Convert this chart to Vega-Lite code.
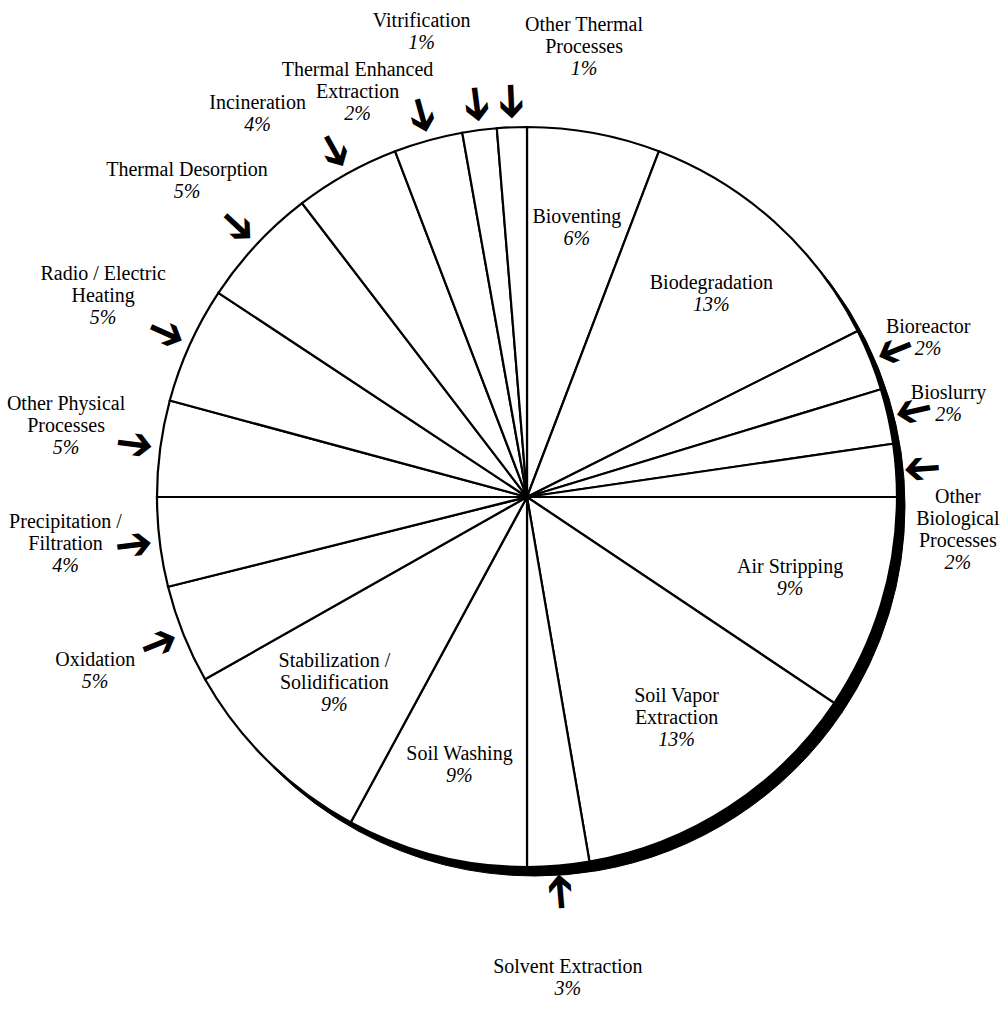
{
  "$schema": "https://vega.github.io/schema/vega-lite/v6.json",
  "autosize": "none",
  "width": 962,
  "height": 994,
  "padding": {"left": 46, "top": 0, "right": 0, "bottom": 42},
  "background": "white",
  "config": {"view": {"stroke": null}},
  "data": {"values": [
    {"n": 1, "tech": "Bioventing", "label": "Bioventing", "pct": "6%", "share": 5.8},
    {"n": 2, "tech": "Biodegradation", "label": "Biodegradation", "pct": "13%", "share": 11.8},
    {"n": 3, "tech": "Bioreactor", "label": "Bioreactor", "pct": "2%", "share": 2.7},
    {"n": 4, "tech": "Bioslurry", "label": "Bioslurry", "pct": "2%", "share": 2.4},
    {"n": 5, "tech": "Other Biological Processes", "label": "Other\nBiological\nProcesses", "pct": "2%", "share": 2.3},
    {"n": 6, "tech": "Air Stripping", "label": "Air Stripping", "pct": "9%", "share": 9.4},
    {"n": 7, "tech": "Soil Vapor Extraction", "label": "Soil Vapor\nExtraction", "pct": "13%", "share": 12.9},
    {"n": 8, "tech": "Solvent Extraction", "label": "Solvent Extraction", "pct": "3%", "share": 2.7},
    {"n": 9, "tech": "Soil Washing", "label": "Soil Washing", "pct": "9%", "share": 7.9},
    {"n": 10, "tech": "Stabilization / Solidification", "label": "Stabilization /\nSolidification", "pct": "9%", "share": 8.9},
    {"n": 11, "tech": "Oxidation", "label": "Oxidation", "pct": "5%", "share": 4.3},
    {"n": 12, "tech": "Precipitation / Filtration", "label": "Precipitation /\nFiltration", "pct": "4%", "share": 3.9},
    {"n": 13, "tech": "Other Physical Processes", "label": "Other Physical\nProcesses", "pct": "5%", "share": 4.2},
    {"n": 14, "tech": "Radio / Electric Heating", "label": "Radio / Electric\nHeating", "pct": "5%", "share": 5.1},
    {"n": 15, "tech": "Thermal Desorption", "label": "Thermal Desorption", "pct": "5%", "share": 5.3},
    {"n": 16, "tech": "Incineration", "label": "Incineration", "pct": "4%", "share": 4.6},
    {"n": 17, "tech": "Thermal Enhanced Extraction", "label": "Thermal Enhanced\nExtraction", "pct": "2%", "share": 3.0},
    {"n": 18, "tech": "Vitrification", "label": "Vitrification", "pct": "1%", "share": 1.5},
    {"n": 19, "tech": "Other Thermal Processes", "label": "Other Thermal\nProcesses", "pct": "1%", "share": 1.3}
  ]},
  "encoding": {
    "theta": {"field": "share", "type": "quantitative", "stack": true},
    "order": {"field": "n", "type": "quantitative"}
  },
  "layer": [
    {
      "mark": {"type": "arc", "radius": 370, "fill": "black", "stroke": "black", "strokeWidth": 1, "xOffset": 8, "yOffset": 9}
    },
    {
      "mark": {"type": "arc", "radius": 370, "fill": "white", "stroke": "black", "strokeWidth": 2.2}
    },
    {
      "mark": {
        "type": "text", "font": "DejaVu Sans", "fontSize": 46, "align": "center", "baseline": "middle",
        "radius": 396,
        "angle": {"expr": "scale('theta', (datum.share_start + datum.share_end) / 2) * 180 / PI + 90"}
      },
      "encoding": {
        "text": {"condition": {"test": "datum.share < 5.5", "value": "➔"}, "value": ""}
      }
    },
    {
      "mark": {
        "type": "text", "font": "Liberation Serif", "fontSize": 20, "align": "center", "baseline": "bottom", "lineBreak": "\n", "lineHeight": 22, "fill": "black",
        "radius": {"expr": "datum.share >= 5.5 ? 275 : indexof(['Oxidation','Precipitation / Filtration','Other Physical Processes','Radio / Electric Heating','Thermal Desorption'], datum.tech) >= 0 ? 465 : indexof(['Bioreactor','Bioslurry','Other Biological Processes'], datum.tech) >= 0 ? 432 : datum.tech == 'Solvent Extraction' ? 482 : datum.tech == 'Vitrification' ? 470 : datum.tech == 'Thermal Enhanced Extraction' ? 410 : 440"},
        "dx": {"expr": "datum.tech == 'Vitrification' ? -45 : datum.tech == 'Other Thermal Processes' ? 75 : datum.tech == 'Thermal Enhanced Extraction' ? -60 : datum.tech == 'Incineration' ? -55 : 0"},
        "dy": {"expr": "(datum.tech == 'Other Biological Processes' ? 85 : 0) - (length(split(datum.label, '\\n')) - 1) * 22"}
      },
      "encoding": {"text": {"field": "label"}}
    },
    {
      "mark": {
        "type": "text", "font": "Liberation Serif", "fontSize": 20, "fontStyle": "italic", "align": "center", "baseline": "top", "fill": "black",
        "radius": {"expr": "datum.share >= 5.5 ? 275 : indexof(['Oxidation','Precipitation / Filtration','Other Physical Processes','Radio / Electric Heating','Thermal Desorption'], datum.tech) >= 0 ? 465 : indexof(['Bioreactor','Bioslurry','Other Biological Processes'], datum.tech) >= 0 ? 432 : datum.tech == 'Solvent Extraction' ? 482 : datum.tech == 'Vitrification' ? 470 : datum.tech == 'Thermal Enhanced Extraction' ? 410 : 440"},
        "dx": {"expr": "datum.tech == 'Vitrification' ? -45 : datum.tech == 'Other Thermal Processes' ? 75 : datum.tech == 'Thermal Enhanced Extraction' ? -60 : datum.tech == 'Incineration' ? -55 : 0"},
        "dy": {"expr": "datum.tech == 'Other Biological Processes' ? 87 : 2"}
      },
      "encoding": {"text": {"field": "pct"}}
    }
  ]
}
